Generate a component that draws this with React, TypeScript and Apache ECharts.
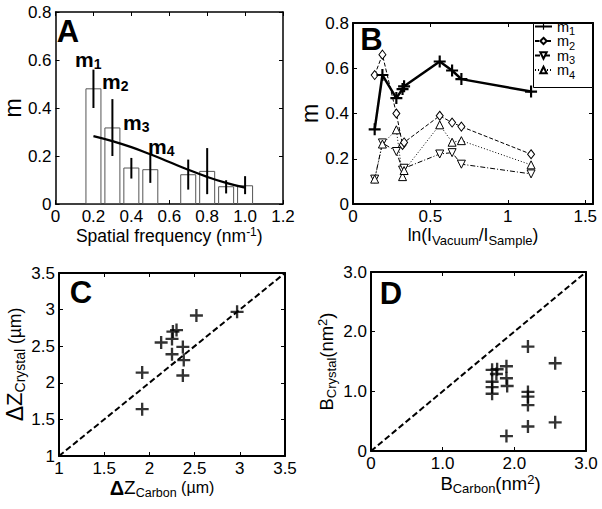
import React, { useEffect, useRef } from "react";
import * as echarts from "echarts";

// ---------- Panel A ----------
const freqA = [0.2, 0.3, 0.4, 0.5, 0.7, 0.8, 0.9, 1.0];
const mA = [0.482, 0.319, 0.152, 0.145, 0.124, 0.138, 0.074, 0.078];
const errLowA = [0.4, 0.2, 0.106, 0.088, 0.06, 0.041, 0.044, 0.041];
const errHighA = [0.56, 0.437, 0.192, 0.206, 0.185, 0.233, 0.099, 0.116];
const fitX = [0.2, 0.3, 0.4, 0.5, 0.6, 0.7, 0.8, 0.9, 1.0];
const fitY = [0.283, 0.262, 0.237, 0.207, 0.175, 0.143, 0.113, 0.088, 0.068];

// ---------- Panel B ----------
const lnRatio = [0.14, 0.19, 0.28, 0.32, 0.33, 0.56, 0.64, 0.7, 1.15];
const m1B = [0.33, 0.57, 0.468, 0.508, 0.52, 0.63, 0.59, 0.552, 0.497];
const m2B = [0.57, 0.66, 0.4, 0.261, 0.272, 0.39, 0.36, 0.342, 0.22];
const m3B = [0.11, 0.27, 0.232, 0.15, 0.158, 0.221, 0.227, 0.176, 0.133];
const m4B = [0.11, 0.265, 0.328, 0.121, 0.148, 0.35, 0.273, 0.28, 0.173];

// ---------- Panel C ----------
const dzCarbon = [1.92, 1.92, 2.13, 2.26, 2.3, 2.25, 2.25, 2.37, 2.38, 2.37, 2.52, 2.97];
const dzCrystal = [2.14, 1.64, 2.55, 2.7, 2.72, 2.6, 2.39, 2.49, 2.31, 2.1, 2.92, 2.97];

// ---------- Panel D ----------
const bCarbon = [1.69, 1.76, 1.75, 1.69, 1.69, 1.69, 1.89, 1.89, 1.9, 1.89, 2.19, 2.19, 2.19, 2.19, 2.19, 2.57, 2.57];
const bCrystal = [1.36, 1.37, 1.29, 1.16, 1.07, 0.96, 1.42, 1.22, 1.09, 0.25, 1.75, 0.99, 0.91, 0.77, 0.41, 1.47, 0.48];

const seriesNamesB = ["m1", "m2", "m3", "m4"];

const FONT = '"Liberation Sans", Arial, Helvetica, sans-serif';
const PLUS = "path://M4.1,0H5.9V4.1H10V5.9H5.9V10H4.1V5.9H0V4.1H4.1Z";
const TICK_FS = 17;

const fmt1 = (v: number) => (Math.abs(v) < 1e-9 ? "0" : v.toFixed(1));
const fmtPlain = (v: number) => String(Math.round(v * 100) / 100);
const fmtHalf = (v: number) => {
  const r = Math.round(v * 100) / 100;
  return Math.abs(r * 2 - Math.round(r * 2)) < 1e-6 ? String(r) : "";
};

function xAxes(grid: number, min: number, max: number, interval: number, fmt: any, lw: number, extra: any) {
  const line = { show: true, onZero: false, lineStyle: { color: "#000", width: lw } };
  const tick = { show: true, inside: true, length: 4, lineStyle: { color: "#000", width: 1 } };
  return [
    {
      type: "value", gridIndex: grid, position: "bottom", min, max, interval,
      axisLine: line, axisTick: tick, splitLine: { show: false },
      axisLabel: { formatter: fmt, color: "#000", fontSize: TICK_FS, fontFamily: FONT, margin: 4 },
      nameLocation: "middle", ...extra,
    },
    {
      type: "value", gridIndex: grid, position: "top", min, max, interval,
      axisLine: line, axisTick: tick, splitLine: { show: false }, axisLabel: { show: false },
    },
  ];
}
function yAxes(grid: number, min: number, max: number, interval: number, fmt: any, lw: number, extra: any) {
  const line = { show: true, onZero: false, lineStyle: { color: "#000", width: lw } };
  const tick = { show: true, inside: true, length: 4, lineStyle: { color: "#000", width: 1 } };
  return [
    {
      type: "value", gridIndex: grid, position: "left", min, max, interval,
      axisLine: line, axisTick: tick, splitLine: { show: false },
      axisLabel: { formatter: fmt, color: "#000", fontSize: TICK_FS, fontFamily: FONT, margin: 4 },
      nameLocation: "middle", ...extra,
    },
    {
      type: "value", gridIndex: grid, position: "right", min, max, interval,
      axisLine: line, axisTick: tick, splitLine: { show: false }, axisLabel: { show: false },
    },
  ];
}

const txt = (size: number, extra: any = {}) => ({ fontSize: size, fontFamily: FONT, color: "#000", ...extra });

function letter(ch: string, x: number, y: number) {
  return {
    type: "text", x, y, z: 100,
    style: { text: ch, fontSize: 31, fontWeight: "bold", fontFamily: FONT, fill: "#000", align: "center", verticalAlign: "middle" },
  };
}
function mLabel(i: number, x: number, y: number) {
  return {
    type: "text", x, y, z: 100,
    style: {
      text: `{a|m}{b|${i}}`, align: "left", verticalAlign: "middle", fill: "#000",
      rich: {
        a: { fontSize: 21, fontWeight: "bold", fontFamily: FONT, fill: "#000" },
        b: { fontSize: 14, fontWeight: "bold", fontFamily: FONT, fill: "#000", padding: [9, 0, 0, 0] },
      },
    },
  };
}

export default function App() {
  const ref = useRef<HTMLDivElement>(null);
  useEffect(() => {
    if (!ref.current) return;
    const chart = echarts.init(ref.current, undefined, { renderer: "svg" });
    const option: any = {
      animation: false,
      backgroundColor: "#fff",
      textStyle: { fontFamily: FONT },
      grid: [
        { left: 51, top: 12, width: 232, height: 192 },
        { left: 353, top: 23, width: 240, height: 181 },
        { left: 59, top: 273, width: 226, height: 183 },
        { left: 371, top: 272, width: 215, height: 179 },
      ],
      xAxis: [
        ...xAxes(0, 0, 1.2, 0.2, fmt1, 1.5, {
          name: "Spatial frequency (nm{p|-1})", nameGap: 20,
          nameTextStyle: { ...txt(17.5), rich: { p: txt(12, { padding: [0, 0, 8, 0] }) } },
        }),
        ...xAxes(1, 0, 1.55, 0.5, fmtHalf, 2, {
          name: "ln(I{s|Vacuum}/I{s|Sample})", nameGap: 17,
          nameTextStyle: { ...txt(17.5), rich: { s: txt(13, { padding: [11, 0, 0, 0] }) } },
        }),
        ...xAxes(2, 1, 3.5, 0.5, fmtPlain, 2, {
          name: "{d|Δ}{z|Z}{s|Carbon}{u| (µm)}", nameGap: 12,
          nameTextStyle: {
            ...txt(16), padding: [0, 20, 0, 0],
            rich: { d: txt(20, { fontWeight: "bold" }), z: txt(19), s: txt(12.5, { padding: [10, 0, 0, 0] }), u: txt(16) },
          },
        }),
        ...xAxes(3, 0, 3, 1, fmt1, 2, {
          name: "B{s|Carbon}(nm{p|2})", nameGap: 21,
          nameTextStyle: {
            ...txt(18.5), padding: [0, 0, 0, 24],
            rich: { s: txt(13, { padding: [10, 0, 0, 0] }), p: txt(13, { padding: [0, 0, 9, 0] }) },
          },
        }),
      ],
      yAxis: [
        ...yAxes(0, 0, 0.8, 0.2, fmt1, 1.5, { name: "m", nameGap: 29, nameTextStyle: txt(23) }),
        ...yAxes(1, 0, 0.8, 0.2, fmt1, 2, { name: "m", nameGap: 26, nameTextStyle: txt(23) }),
        ...yAxes(2, 1, 3.5, 0.5, fmtPlain, 2, {
          name: "{d|Δ}{z|Z}{s|Crystal}{u| (µm)}", nameGap: 31,
          nameTextStyle: {
            ...txt(17),
            rich: { d: txt(23), z: txt(22), s: txt(14, { padding: [11, 0, 0, 0] }), u: txt(17.5) },
          },
        }),
        ...yAxes(3, 0, 3, 1, fmt1, 2, {
          name: "B{s|Crystal}(nm{p|2})", nameGap: 33,
          nameTextStyle: {
            ...txt(18.5),
            rich: { s: txt(13, { padding: [10, 0, 0, 0] }), p: txt(13, { padding: [0, 0, 9, 0] }) },
          },
        }),
      ],
      legend: {
        data: seriesNamesB,
        orient: "vertical", left: 533, top: 18, z: 6,
        itemWidth: 17, itemHeight: 8, itemGap: -4,
        padding: [0, 8, 0, 1],
        selectedMode: false,
        formatter: (n: string) => `{a|m}{b|${n.slice(1)}}`,
        textStyle: {
          lineHeight: 16,
          rich: {
            a: txt(14.5, { height: 10, lineHeight: 16 }),
            b: txt(11, { height: 8, lineHeight: 16, padding: [9, 0, 0, 0] }),
          },
        },
      },
      graphic: [
        {
          type: "rect", z: 3,
          shape: { x: 533.5, y: 23.5, width: 59, height: 64 },
          style: { fill: "#fff", stroke: "#000", lineWidth: 1 },
        },
        letter("A", 68, 31),
        letter("B", 371.5, 39),
        letter("C", 81, 292.5),
        letter("D", 391, 293.5),
        mLabel(1, 75, 59),
        mLabel(2, 102, 81.5),
        mLabel(3, 123, 122.5),
        mLabel(4, 148, 146),
      ],
      series: [
        // Panel A
        {
          type: "bar", xAxisIndex: 0, yAxisIndex: 0, barWidth: 16,
          data: freqA.map((x, i) => [x, mA[i]]),
          itemStyle: { color: "#fff", borderColor: "#555", borderWidth: 1 }, z: 2,
        },
        {
          type: "custom", xAxisIndex: 0, yAxisIndex: 0, z: 3,
          data: freqA.map((x, i) => [x, errLowA[i], errHighA[i]]),
          encode: { x: 0, y: [1, 2] },
          renderItem: (_p: any, api: any) => {
            const a = api.coord([api.value(0), api.value(1)]);
            const b = api.coord([api.value(0), api.value(2)]);
            return { type: "line", shape: { x1: a[0], y1: a[1], x2: b[0], y2: b[1] }, style: { stroke: "#000", lineWidth: 2 } };
          },
        },
        {
          type: "line", xAxisIndex: 0, yAxisIndex: 0, z: 4, smooth: true, symbol: "none",
          data: fitX.map((x, i) => [x, fitY[i]]),
          lineStyle: { color: "#000", width: 2.2 },
        },
        // Panel B
        {
          name: "m2", type: "line", xAxisIndex: 2, yAxisIndex: 2, z: 3,
          data: lnRatio.map((x, i) => [x, m2B[i]]),
          symbol: "diamond", symbolSize: [7, 9],
          itemStyle: { color: "#fff", borderColor: "#000", borderWidth: 1 },
          lineStyle: { color: "#000", width: 1, type: [4, 2] },
        },
        {
          name: "m3", type: "line", xAxisIndex: 2, yAxisIndex: 2, z: 3,
          data: lnRatio.map((x, i) => [x, m3B[i]]),
          symbol: "triangle", symbolRotate: 180, symbolSize: 8,
          itemStyle: { color: "#fff", borderColor: "#000", borderWidth: 1 },
          lineStyle: { color: "#000", width: 1, type: [5, 2, 1, 2] },
        },
        {
          name: "m4", type: "line", xAxisIndex: 2, yAxisIndex: 2, z: 3,
          data: lnRatio.map((x, i) => [x, m4B[i]]),
          symbol: "triangle", symbolSize: 8,
          itemStyle: { color: "#fff", borderColor: "#000", borderWidth: 1 },
          lineStyle: { color: "#000", width: 1, type: [1, 2] },
        },
        {
          name: "m1", type: "line", xAxisIndex: 2, yAxisIndex: 2, z: 4,
          data: lnRatio.map((x, i) => [x, m1B[i]]),
          symbol: PLUS, symbolSize: 12,
          itemStyle: { color: "#000" },
          lineStyle: { color: "#000", width: 2.5 },
        },
        // Panel C
        {
          type: "line", xAxisIndex: 4, yAxisIndex: 4, symbol: "none", z: 2,
          data: [[1, 1], [3.5, 3.5]],
          lineStyle: { color: "#000", width: 2, type: [6, 3] },
        },
        {
          type: "scatter", xAxisIndex: 4, yAxisIndex: 4, z: 3,
          data: dzCarbon.map((x, i) => [x, dzCrystal[i]]),
          symbol: PLUS, symbolSize: 13, itemStyle: { color: "#000" },
        },
        // Panel D
        {
          type: "line", xAxisIndex: 6, yAxisIndex: 6, symbol: "none", z: 2,
          data: [[0, 0], [3, 3]],
          lineStyle: { color: "#000", width: 2, type: [6, 3] },
        },
        {
          type: "scatter", xAxisIndex: 6, yAxisIndex: 6, z: 3,
          data: bCarbon.map((x, i) => [x, bCrystal[i]]),
          symbol: PLUS, symbolSize: 13, itemStyle: { color: "#000" },
        },
      ],
    };
    chart.setOption(option);
    return () => chart.dispose();
  }, []);
  return (
    <div
      ref={ref}
      style={{ position: "absolute", left: 0, top: 0, width: 602, height: 509, background: "#fff" }}
    />
  );
}
